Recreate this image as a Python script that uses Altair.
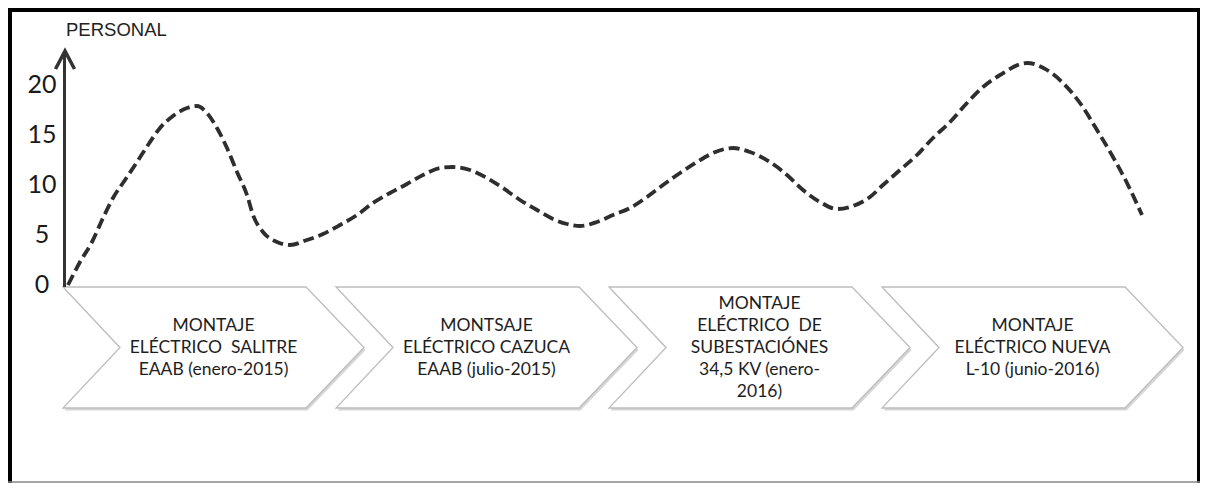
import altair as alt

# ---- data ----
curve_x = [68, 80, 92, 103, 113, 125, 137, 148, 160, 173, 187, 197, 207, 217, 227, 237, 247, 253, 263, 277,
           290, 307, 323, 340, 357, 373, 390, 407, 423, 440, 453, 470, 487, 503, 520, 537, 553, 567,
           580, 597, 613, 630, 647, 663, 680, 697, 713, 733, 750, 770, 787, 803, 820, 837, 853, 870,
           883, 900, 917, 933, 950, 967, 983, 1000, 1027, 1047, 1063, 1080, 1097, 1113, 1127, 1142]
curve_y = [0.0, 2.3, 4.3, 6.7, 8.7, 10.5, 12.3, 14.0, 15.7, 16.9, 17.7, 17.9, 17.2, 15.7, 13.7, 11.3, 9.0, 7.0, 5.3, 4.3,
           4.0, 4.5, 5.1, 6.0, 7.0, 8.2, 9.2, 10.1, 11.0, 11.7, 11.8, 11.5, 10.7, 9.7, 8.5, 7.5, 6.6, 6.1,
           5.9, 6.3, 7.0, 7.7, 8.8, 10.0, 11.2, 12.3, 13.2, 13.7, 13.3, 12.3, 11.0, 9.5, 8.3, 7.6, 7.9, 8.8,
           10.0, 11.5, 13.0, 14.7, 16.3, 18.2, 19.8, 21.0, 22.2, 21.5, 20.2, 18.2, 15.5, 12.8, 10.2, 7.0]

tick_values = [0, 5, 10, 15, 20]
y_title = "PERSONAL"

stages = ["E1", "E2", "E3", "E4"]
stage_lines = [
    ["MONTAJE", "ELÉCTRICO\u00a0 SALITRE", "EAAB (enero-2015)"],
    ["MONTSAJE", "ELÉCTRICO CAZUCA", "EAAB (julio-2015)"],
    ["MONTAJE", "ELÉCTRICO\u00a0 DE", "SUBESTACIÓNES", "34,5 KV (enero-", "2016)"],
    ["MONTAJE", "ELÉCTRICO NUEVA", "L-10 (junio-2016)"],
]

# ---- tables ----
curve_data = alt.Data(values=[{"t": t, "v": v} for t, v in zip(curve_x, curve_y)])
tick_data = alt.Data(values=[{"v": v, "lab": str(v)} for v in tick_values])
stage_data = alt.Data(values=[{"stage": s, "lines": l, "n": len(l)} for s, l in zip(stages, stage_lines)])
axis_data = alt.Data(values=[{"lo": -0.2, "hi": 23.3, "tip": 23.4, "title": y_title}])

W, H = 1192, 475
LH = 22
xs = alt.Scale(domain=[8, 1200], nice=False, zero=False)
ys = alt.Scale(domain=[-19.8, 27.7], nice=False, zero=False)
ss = alt.Scale(type="point", domain=stages, range=[205.5, 1024.5], padding=0)

chev = "M-1,-0.402L0.615,-0.402L1,0L0.615,0.402L-1,0.402L-0.621,0Z"
chev_size = 301 ** 2

shadow = alt.Chart(stage_data).mark_point(
    shape=chev, size=chev_size, filled=True, fill="#c4c4c4", strokeWidth=0,
    opacity=0.7, xOffset=1.5, yOffset=2.5
).encode(x=alt.X("stage:N", scale=ss, axis=None), y=alt.value(339.5))

chevrons = alt.Chart(stage_data).mark_point(
    shape=chev, size=chev_size, filled=True, fill="white", stroke="#bdbdbd",
    strokeWidth=1.3, opacity=1
).encode(x=alt.X("stage:N", scale=ss, axis=None), y=alt.value(339.5))


def stage_text(n):
    return alt.Chart(stage_data).transform_filter(alt.datum.n == n).mark_text(
        font="Lato", fontSize=17.5, lineHeight=LH, align="center", baseline="middle",
        color="#1e1e1e", dy=-(n - 1) / 2 * LH
    ).encode(x=alt.X("stage:N", scale=ss, axis=None), y=alt.value(340), text="lines:N")


curve = alt.Chart(curve_data).mark_line(
    interpolate="monotone", strokeDash=[11, 5], strokeWidth=3.8, color="#2e2e2e", strokeCap="butt"
).encode(x=alt.X("t:Q", scale=xs, axis=None), y=alt.Y("v:Q", scale=ys, axis=None))

axis_line = alt.Chart(axis_data).mark_rule(color="#333333", strokeWidth=3).encode(
    x=alt.value(56.5), y=alt.Y("lo:Q", scale=ys, axis=None), y2="hi:Q"
)

arrow = alt.Chart(axis_data).mark_point(
    shape="M-1,1.9L0,0L1,1.9", size=361, filled=False, stroke="#333333",
    strokeWidth=3.5, opacity=1, strokeJoin="miter"
).encode(x=alt.value(57), y=alt.Y("tip:Q", scale=ys, axis=None))

ticks = alt.Chart(tick_data).mark_text(
    font="Lato", fontSize=25, align="center", baseline="middle", color="#1a1a1a"
).encode(x=alt.value(34), y=alt.Y("v:Q", scale=ys, axis=None), text="lab:N")

title = alt.Chart(axis_data).mark_text(
    font="Liberation Sans", fontSize=18.5, align="left", baseline="middle", color="#222222"
).encode(x=alt.value(58), y=alt.value(22), text="title:N")

# frame
top_b = alt.Chart(axis_data).mark_rule(color="black", strokeWidth=4).encode(
    x=alt.value(0), x2=alt.value(W), y=alt.value(2))
left_b = alt.Chart(axis_data).mark_rule(color="black", strokeWidth=4).encode(
    x=alt.value(2), y=alt.value(0), y2=alt.value(H))
right_b = alt.Chart(axis_data).mark_rule(color="black", strokeWidth=3).encode(
    x=alt.value(W - 1.5), y=alt.value(0), y2=alt.value(H))
bottom_b = alt.Chart(axis_data).mark_rule(color="#888888", strokeWidth=1.5).encode(
    x=alt.value(0), x2=alt.value(W), y=alt.value(H - 1))

chart = alt.layer(
    shadow, chevrons, stage_text(3), stage_text(5), curve, axis_line, arrow, ticks, title,
    top_b, left_b, right_b, bottom_b
).resolve_scale(x="independent").properties(
    width=W, height=H, padding=0, autosize=alt.AutoSizeParams(type="none"),
    background="white"
).configure_view(stroke=None)

chart.save("out.html", embed_options={"renderer": "svg", "actions": False})
